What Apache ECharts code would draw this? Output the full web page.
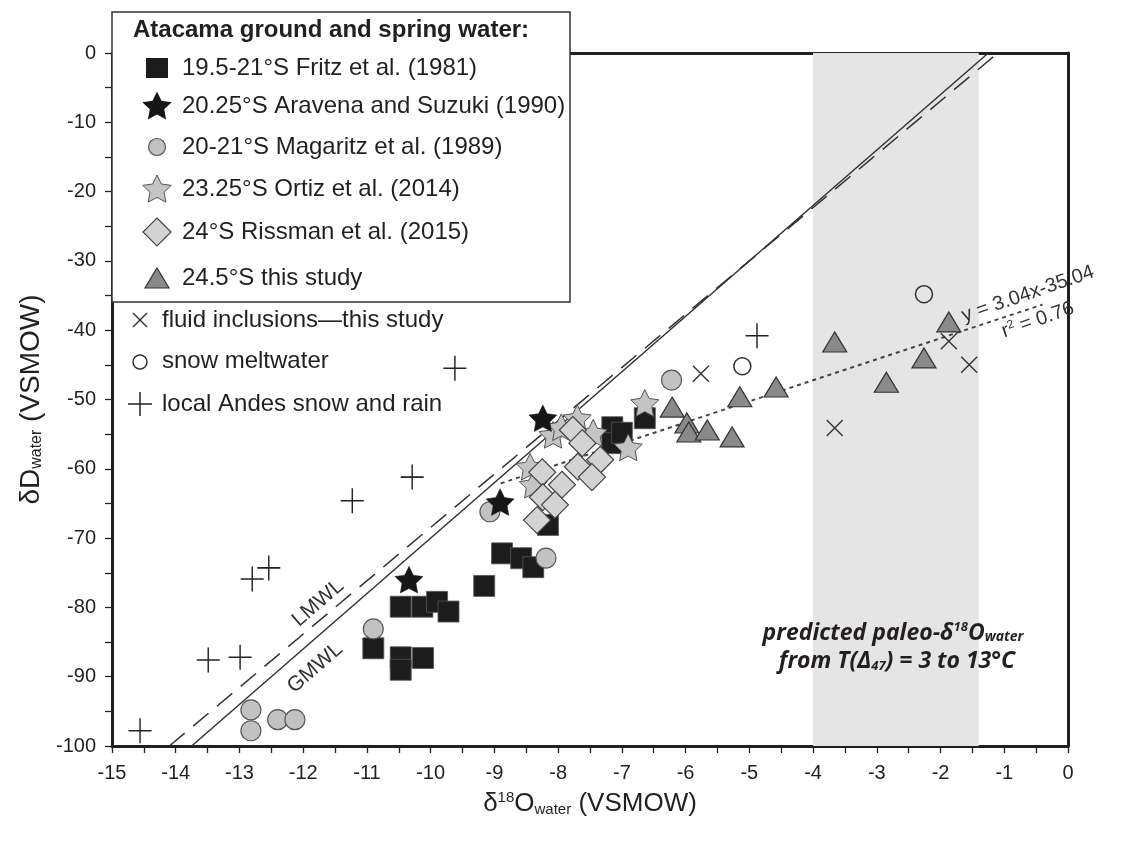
<!DOCTYPE html>
<html><head><meta charset="utf-8">
<script src="https://cdn.jsdelivr.net/npm/echarts@6/dist/echarts.min.js"></script>
<style>html,body{margin:0;padding:0;background:#fff}#c{width:1124px;height:846px}</style>
</head><body><div id="c"></div>
<script>
// ---- data (δ18O, δD) ----
const fritz = [[-8.88,-72.2],[-8.58,-72.9],[-8.39,-74.2],[-9.16,-76.9],[-10.47,-79.9],[-10.13,-79.9],[-9.9,-79.2],[-9.72,-80.6],[-10.9,-85.9],[-10.47,-87.2],[-10.47,-89.0],[-10.12,-87.3],[-7.15,-54.0],[-7.15,-56.3],[-7.0,-54.8],[-6.64,-52.7],[-8.16,-68.1]];
const aravena = [[-10.34,-76.0],[-8.91,-64.8],[-8.24,-52.7]];
const magaritz = [[-6.22,-47.2],[-9.07,-66.2],[-8.19,-72.9],[-10.9,-83.1],[-12.82,-94.8],[-12.82,-97.8],[-12.4,-96.2],[-12.13,-96.2]];
const ortiz = [[-8.08,-55.1],[-7.95,-54.0],[-7.7,-52.7],[-7.45,-54.8],[-6.64,-50.5],[-6.9,-56.9],[-8.44,-59.7],[-8.39,-62.3]];
const rissman = [[-7.77,-54.4],[-7.62,-56.3],[-7.34,-58.7],[-7.69,-59.7],[-7.47,-61.2],[-8.25,-60.5],[-7.94,-62.3],[-8.24,-64.1],[-8.05,-65.2],[-8.33,-67.4]];
const thisStudy = [[-3.66,-41.7],[-1.87,-38.8],[-2.26,-44.0],[-2.85,-47.5],[-4.58,-48.2],[-5.15,-49.6],[-6.21,-51.1],[-5.98,-53.4],[-5.95,-54.7],[-5.66,-54.4],[-5.27,-55.4]];
const fluidInclusions = [[-5.76,-46.3],[-3.66,-54.1],[-1.87,-41.6],[-1.55,-45.0]];
const snowMeltwater = [[-2.26,-34.8],[-5.11,-45.2]];
const andesSnowRain = [[-14.56,-97.8],[-13.49,-87.6],[-12.99,-87.2],[-12.8,-75.9],[-12.54,-74.3],[-11.23,-64.6],[-10.29,-61.2],[-9.62,-45.5],[-4.88,-40.8]];
const gmwl = [[-13.75,-100],[-1.25,0]];
const lmwl = [[-14.1,-100],[-1.1,0]];
const regression = [[-8.9,-62.1],[-0.4,-36.3]];
const paleoBand = [-4, -1.4];
const xRange = [-15, 0];
const yRange = [-100, 0];
const legendTitle = 'Atacama ground and spring water:';
const legendLabels = ['19.5-21°S Fritz et al. (1981)','20.25°S Aravena and Suzuki (1990)','20-21°S Magaritz et al. (1989)','23.25°S Ortiz et al. (2014)','24°S Rissman et al. (2015)','24.5°S this study'];
const otherLabels = ['fluid inclusions\u2014this study','snow meltwater','local Andes snow and rain'];

// ---- helpers (shapes only) ----
function starPts(cx, cy, R, r){
  const p=[];
  for(let k=0;k<10;k++){
    const a=(-90+k*36)*Math.PI/180, rr=(k%2===0)?R:r;
    p.push([cx+rr*Math.cos(a), cy+rr*Math.sin(a)]);
  }
  return p;
}
const starSym = 'path://' + starPts(50,50,50,25).map((q,i)=>(i?'L':'M')+q[0].toFixed(2)+','+q[1].toFixed(2)).join('') + 'Z';
const crossSym = 'path://M0,0L10,10M10,0L0,10';
const plusSym = 'path://M5,0L5,10M0,5L10,5';

const SANS = "'Liberation Sans',Arial,Helvetica,sans-serif";
const INK = '#231f20';

const chart = echarts.init(document.getElementById('c'), null, {renderer:'canvas'});

const option = {
  backgroundColor:'#fff',
  animation:false,
  grid:{left:112, right:56, top:53, bottom:100, containLabel:false, outerBoundsMode:'none'},
  xAxis:[{
    type:'value', min:xRange[0], max:xRange[1], interval:1, position:'bottom',
    axisLine:{show:true, onZero:false, lineStyle:{color:INK, width:3}},
    axisTick:{show:true, inside:false, length:7, lineStyle:{color:INK, width:1.3}},
    minorTick:{show:true, splitNumber:2, length:7, lineStyle:{color:INK, width:1.3}},
    splitLine:{show:false},
    axisLabel:{color:INK, fontSize:20, fontFamily:SANS, margin:17},
    name:'δ{sup|18}O{sub|water} (VSMOW)', nameLocation:'middle', nameGap:44,
    nameTextStyle:{color:INK, fontSize:26, fontFamily:SANS,
      rich:{sup:{fontSize:15, fontFamily:SANS, color:INK, padding:[0,0,13,0]},
            sub:{fontSize:15, fontFamily:SANS, color:INK, padding:[11,0,0,0]}}}
  },{
    type:'value', min:xRange[0], max:xRange[1], position:'top',
    axisLine:{show:true, onZero:false, lineStyle:{color:INK, width:3}},
    axisTick:{show:false}, axisLabel:{show:false}, splitLine:{show:false}
  }],
  yAxis:[{
    type:'value', min:yRange[0], max:yRange[1], interval:10, position:'left',
    axisLine:{show:true, onZero:false, lineStyle:{color:INK, width:3}},
    axisTick:{show:true, inside:false, length:7, lineStyle:{color:INK, width:1.3}},
    minorTick:{show:true, splitNumber:2, length:7, lineStyle:{color:INK, width:1.3}},
    splitLine:{show:false},
    axisLabel:{color:INK, fontSize:20, fontFamily:SANS, margin:16},
    name:'δD{sub|water} (VSMOW)', nameLocation:'middle', nameGap:58,
    nameTextStyle:{color:INK, fontSize:28, fontFamily:SANS,
      rich:{sub:{fontSize:16, fontFamily:SANS, color:INK, padding:[12,0,0,0]}}}
  },{
    type:'value', min:yRange[0], max:yRange[1], position:'right',
    axisLine:{show:true, onZero:false, lineStyle:{color:INK, width:3}},
    axisTick:{show:false}, axisLabel:{show:false}, splitLine:{show:false}
  }],
  series:[
    {type:'line', name:'band', data:[], z:1, silent:true,
     markArea:{silent:true, itemStyle:{color:'#e5e5e5'}, data:[[{xAxis:paleoBand[0], yAxis:yRange[0]},{xAxis:paleoBand[1], yAxis:yRange[1]}]]}},
    {type:'line', name:'GMWL', data:gmwl, symbol:'none', z:2, silent:true, lineStyle:{color:'#333', width:1.5}},
    {type:'line', name:'LMWL', data:lmwl, symbol:'none', z:2, silent:true, lineStyle:{color:'#333', width:1.5, type:[20,11]}},
    {type:'line', name:'regression', data:regression, symbol:'none', z:2, silent:true, lineStyle:{color:'#444', width:2, type:[4,4]}},
    {type:'scatter', name:legendLabels[0], data:fritz, symbol:'rect', symbolSize:21, z:3,
     itemStyle:{color:'#1c1c1c', borderColor:'#555', borderWidth:0.8, opacity:1}},
    {type:'scatter', name:legendLabels[2], data:magaritz, symbol:'circle', symbolSize:20, z:3,
     itemStyle:{color:'#c2c2c2', borderColor:'#555', borderWidth:1.2, opacity:1}},
    {type:'scatter', name:legendLabels[3], data:ortiz, symbol:starSym, symbolKeepAspect:true, symbolSize:28, z:3,
     itemStyle:{color:'#c4c4c4', borderColor:'#555', borderWidth:1, opacity:1}},
    {type:'scatter', name:legendLabels[4], data:rissman, symbol:'diamond', symbolSize:27, z:3,
     itemStyle:{color:'#d3d3d3', borderColor:'#444', borderWidth:1.2, opacity:1}},
    {type:'scatter', name:legendLabels[1], data:aravena, symbol:starSym, symbolKeepAspect:true, symbolSize:28, z:3,
     itemStyle:{color:'#161616', borderColor:'#161616', borderWidth:0.5, opacity:1}},
    {type:'scatter', name:legendLabels[5], data:thisStudy, symbol:'triangle', symbolSize:[24,20], z:3,
     itemStyle:{color:'#8a8a8a', borderColor:'#333', borderWidth:1.2, opacity:1}},
    {type:'scatter', name:otherLabels[0], data:fluidInclusions, symbol:crossSym, symbolSize:16, z:3,
     itemStyle:{color:'rgba(0,0,0,0)', borderColor:'#333', borderWidth:1.4, opacity:1}},
    {type:'scatter', name:otherLabels[1], data:snowMeltwater, symbol:'circle', symbolSize:17, z:3,
     itemStyle:{color:'rgba(0,0,0,0)', borderColor:'#333', borderWidth:1.5, opacity:1}},
    {type:'scatter', name:otherLabels[2], data:andesSnowRain, symbol:plusSym, symbolSize:[23,25], z:3,
     itemStyle:{color:'rgba(0,0,0,0)', borderColor:'#222', borderWidth:1.5, opacity:1}}
  ],
  graphic:[]
};

// ---- legend (drawn as graphics) ----
const g = [];
const LF = '24px '+SANS;
g.push({type:'rect', z:100, shape:{x:112, y:12, width:458, height:290}, style:{fill:'#fff', stroke:'#333', lineWidth:1.5}});
g.push({type:'text', z:101, x:133, y:30, style:{text:legendTitle, fill:INK, font:'bold 24px '+SANS, verticalAlign:'middle'}});
const rowY = [68,106,147,189,232,278];
legendLabels.forEach((t,i)=>{
  g.push({type:'text', z:101, x:182, y:rowY[i], style:{text:t, fill:INK, font:LF, verticalAlign:'middle'}});
});
const sx = 157;
g.push({type:'rect', z:101, shape:{x:sx-11, y:rowY[0]-10, width:22, height:20}, style:{fill:'#1c1c1c'}});
g.push({type:'polygon', z:101, shape:{points:starPts(sx,rowY[1]+1,15.5,7.6)}, style:{fill:'#161616'}});
g.push({type:'circle', z:101, shape:{cx:sx, cy:rowY[2], r:8.5}, style:{fill:'#c2c2c2', stroke:'#555', lineWidth:1.2}});
g.push({type:'polygon', z:101, shape:{points:starPts(sx,rowY[3]+1,15,7.4)}, style:{fill:'#c4c4c4', stroke:'#555', lineWidth:1}});
g.push({type:'polygon', z:101, shape:{points:[[sx,rowY[4]-14],[sx+14,rowY[4]],[sx,rowY[4]+14],[sx-14,rowY[4]]]}, style:{fill:'#d3d3d3', stroke:'#444', lineWidth:1.2}});
g.push({type:'polygon', z:101, shape:{points:[[sx,rowY[5]-10],[sx+12,rowY[5]+10],[sx-12,rowY[5]+10]]}, style:{fill:'#8a8a8a', stroke:'#333', lineWidth:1.2}});
const oy = [320,361,404];
otherLabels.forEach((t,i)=>{
  g.push({type:'text', z:101, x:162, y:oy[i], style:{text:t, fill:INK, font:LF, verticalAlign:'middle'}});
});
g.push({type:'polyline', z:101, shape:{points:[[133,313],[147,327]]}, style:{stroke:'#333', lineWidth:1.4}});
g.push({type:'polyline', z:101, shape:{points:[[147,313],[133,327]]}, style:{stroke:'#333', lineWidth:1.4}});
g.push({type:'circle', z:101, shape:{cx:140, cy:oy[1]+1, r:7}, style:{fill:'none', stroke:'#333', lineWidth:1.5}});
g.push({type:'polyline', z:101, shape:{points:[[128,oy[2]],[152,oy[2]]]}, style:{stroke:'#222', lineWidth:1.5}});
g.push({type:'polyline', z:101, shape:{points:[[140,oy[2]-12],[140,oy[2]+12]]}, style:{stroke:'#222', lineWidth:1.5}});

// ---- annotations ----
const ann = (txt,x,y,deg,font,rich)=>({type:'text', z:50, x:x, y:y, rotation:deg*Math.PI/180,
  style:{text:txt, fill:'#333', font:font, align:'center', verticalAlign:'middle', rich:rich||undefined}});
g.push(ann('LMWL',318,603,41,'21px '+SANS));
g.push(ann('GMWL',315,668,41,'21px '+SANS));
g.push(ann('y = 3.04x-35.04',1028,294,19,'20px '+SANS));
g.push(ann('r{sup|2} = 0.76',1038,320,19,'20px '+SANS,{sup:{fontSize:12, fill:'#333', padding:[0,0,9,0]}}));
const BI = "italic bold 23px 'Open Sans',Lato,sans-serif";
g.push({type:'text', z:50, x:893, y:633, style:{text:'predicted paleo-δ{sup|18}O{sub|water}', fill:INK, font:BI, align:'center', verticalAlign:'middle',
  rich:{sup:{font:"italic bold 13px 'Open Sans',sans-serif", fill:INK, padding:[0,0,11,0]}, sub:{font:"italic bold 14px 'Open Sans',sans-serif", fill:INK, padding:[9,0,0,0]}}}});
g.push({type:'text', z:50, x:897, y:661, style:{text:'from T(Δ{sub|47}) = 3 to 13°C', fill:INK, font:BI, align:'center', verticalAlign:'middle',
  rich:{sub:{font:"italic bold 13px 'Open Sans',sans-serif", fill:INK, padding:[11,0,0,0]}}}});

option.graphic = g;
chart.setOption(option);
</script>
</body></html>
